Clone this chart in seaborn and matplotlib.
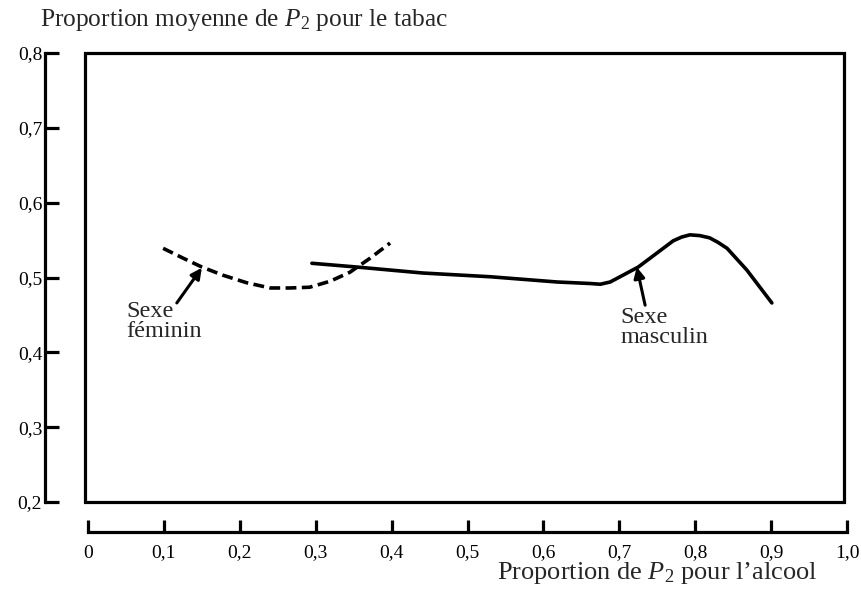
import matplotlib
matplotlib.use('Agg')
import matplotlib.pyplot as plt
import seaborn as sns
from matplotlib.patches import Rectangle

# --- DONNEES ---
female_x = [0.099, 0.125, 0.150, 0.178, 0.209, 0.240, 0.266, 0.292, 0.319, 0.345, 0.372, 0.398]
female_y = [0.539, 0.526, 0.514, 0.503, 0.493, 0.486, 0.486, 0.487, 0.495, 0.507, 0.526, 0.546]

male_x = [0.295, 0.354, 0.441, 0.530, 0.618, 0.661, 0.675, 0.688, 0.701, 0.725, 0.750,
          0.771, 0.782, 0.793, 0.806, 0.819, 0.830, 0.842, 0.868, 0.901]
male_y = [0.519, 0.514, 0.506, 0.501, 0.494, 0.492, 0.491, 0.494, 0.501, 0.514, 0.533,
          0.549, 0.554, 0.557, 0.556, 0.553, 0.547, 0.539, 0.510, 0.466]

x_ticks = [0, 0.1, 0.2, 0.3, 0.4, 0.5, 0.6, 0.7, 0.8, 0.9, 1.0]
x_tick_labels = ["0", "0,1", "0,2", "0,3", "0,4", "0,5", "0,6", "0,7", "0,8", "0,9", "1,0"]
y_ticks = [0.2, 0.3, 0.4, 0.5, 0.6, 0.7, 0.8]
y_tick_labels = ["0,2", "0,3", "0,4", "0,5", "0,6", "0,7", "0,8"]

# --- STYLE ---
sns.set_style("white")
plt.rcParams['font.family'] = ['Liberation Serif', 'DejaVu Serif']
plt.rcParams['mathtext.fontset'] = 'custom'
plt.rcParams['mathtext.rm'] = 'Liberation Serif'
plt.rcParams['mathtext.it'] = 'Liberation Serif:italic'

LW = 2.3

fig = plt.figure(figsize=(8.61, 5.89), dpi=100)
ax = fig.add_axes([88 / 861, 87 / 589, 759 / 861, 449 / 589])

sns.lineplot(x=female_x, y=female_y, ax=ax, color="black", lw=2.6,
             linestyle=(0, (3.0, 1.5)), dash_capstyle="butt")
sns.lineplot(x=male_x, y=male_y, ax=ax, color="black", lw=2.6,
             solid_joinstyle="round", solid_capstyle="round")

ax.set_xlim(0, 1.0)
ax.set_ylim(0.2, 0.8)

# cadre
ax.add_patch(Rectangle((-0.004, 0.0), 1.0, 1.0, transform=ax.transAxes,
                       fill=False, lw=LW, ec="black", clip_on=False, zorder=3))
ax.spines["top"].set_visible(False)
ax.spines["right"].set_visible(False)
ax.spines["left"].set_position(("outward", 31))
ax.spines["bottom"].set_position(("outward", 21.6))
ax.spines["left"].set_bounds(0.2, 0.8)
ax.spines["bottom"].set_bounds(0, 1.0)
for s in ("left", "bottom"):
    ax.spines[s].set_linewidth(LW)
    ax.spines[s].set_color("black")

ax.set_xticks(x_ticks, labels=x_tick_labels)
ax.set_yticks(y_ticks, labels=y_tick_labels)
ax.tick_params(axis="x", bottom=True, direction="in", length=8.6, width=LW, pad=9,
               labelsize=14, colors="black")
ax.tick_params(axis="y", left=True, direction="in", length=10, width=LW, pad=2,
               labelsize=14, colors="black")

ax.set_xlabel(r"Proportion de $P_2$ pour l’alcool", fontsize=19)
ax.xaxis.set_label_coords(0.75, -0.13)
fig.text(40 / 861, 1 - 20 / 589, r"Proportion moyenne de $P_2$ pour le tabac",
         fontsize=18.3, ha="left", va="center")

# annotations
arrow = dict(arrowstyle="-|>", color="black", lw=2.2, mutation_scale=16,
             shrinkA=0, shrinkB=0)
ax.annotate("", xy=(0.150, 0.513), xytext=(0.117, 0.466), arrowprops=arrow)
ax.text(0.051, 0.469, "Sexe\nféminin", fontsize=17.5, ha="left", va="top",
        linespacing=0.95)
ax.annotate("", xy=(0.723, 0.514), xytext=(0.734, 0.463), arrowprops=arrow)
ax.text(0.701, 0.461, "Sexe\nmasculin", fontsize=17.5, ha="left", va="top",
        linespacing=0.95)

fig.savefig("out.png", dpi=100)
plt.close(fig)
